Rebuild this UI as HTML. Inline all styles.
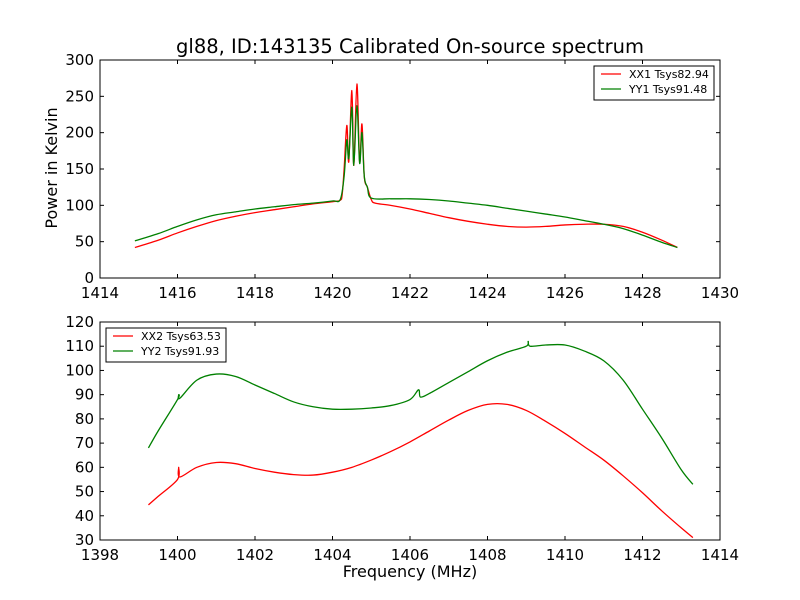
<!DOCTYPE html>
<html><head><meta charset="utf-8"><style>
body{margin:0;background:#fff;}
svg{display:block;font-family:"DejaVu Sans","Liberation Sans",sans-serif;}
</style></head><body>
<svg id="chart" width="800" height="600" viewBox="0 0 800 600">
<rect width="800" height="600" fill="#fff"/>
<text x="410" y="53" font-size="19.5" text-anchor="middle">gl88, ID:143135 Calibrated On-source spectrum</text>
<text x="57" y="168" font-size="16" text-anchor="middle" transform="rotate(-90 57 168)">Power in Kelvin</text>
<text x="410" y="577" font-size="16" text-anchor="middle">Frequency (MHz)</text>
<g id="top"></g><g id="bot"></g>
</svg>
<script>
const topXTicks=[1414,1416,1418,1420,1422,1424,1426,1428,1430];
const topYTicks=[0,50,100,150,200,250,300];
const xx1Freq=[1414.9,1415.5,1416,1416.5,1417,1417.5,1418,1418.5,1419,1419.5,1420,1420.2,1420.25,1420.3,1420.37,1420.42,1420.5,1420.55,1420.63,1420.7,1420.76,1420.82,1420.9,1421,1421.1,1421.5,1422,1422.5,1423,1423.5,1424,1424.5,1425,1425.5,1426,1426.5,1427,1427.5,1428,1428.5,1428.9];
const xx1Vals=[42,52,62,71,79,85,90,94,98,102,105,107,115,150,210,160,258,155,267,160,212,140,125,108,103,100,95,89,83,78,74,71,70,71,73,74,74,71,63,52,42];
const yy1Freq=[1414.9,1415.5,1416,1416.5,1417,1417.5,1418,1418.5,1419,1419.5,1420,1420.2,1420.3,1420.37,1420.42,1420.5,1420.55,1420.63,1420.7,1420.76,1420.82,1420.9,1421,1421.5,1422,1422.5,1423,1423.5,1424,1424.5,1425,1425.5,1426,1426.5,1427,1427.5,1428,1428.5,1428.9];
const yy1Vals=[51,61,71,80,87,91,95,98,101,103,106,108,140,190,165,235,155,237,158,200,140,125,110,109,109,108,106,103,100,96,92,88,84,79,74,68,59,49,42];
const botXTicks=[1398,1400,1402,1404,1406,1408,1410,1412,1414];
const botYTicks=[30,40,50,60,70,80,90,100,110,120];
const xx2Freq=[1399.25,1399.5,1400,1400.03,1400.06,1400.5,1401,1401.5,1402,1402.5,1403,1403.5,1404,1404.5,1405,1405.5,1406,1406.5,1407,1407.5,1408,1408.5,1409,1409.5,1410,1410.5,1411,1411.5,1412,1412.5,1413,1413.3];
const xx2Vals=[44.5,48,55,60,56,60,62,61.5,59.5,58,57,56.8,58,60,63,66.5,70.5,75,79.5,83.5,86,86,83.5,79,74,68.5,63,56.5,49.5,42,35,31];
const yy2Freq=[1399.25,1399.5,1400,1400.03,1400.06,1400.5,1401,1401.5,1402,1402.5,1403,1403.5,1404,1404.5,1405,1405.5,1406,1406.22,1406.27,1406.5,1407,1407.5,1408,1408.5,1409,1409.05,1409.1,1409.5,1410,1410.5,1411,1411.5,1412,1412.5,1413,1413.3];
const yy2Vals=[68,75,88,90,88.5,96,98.5,97.5,94,90.5,87,85,84,84,84.5,85.5,88,92,89,90.5,95,99.5,104,107.5,110,112,110,110.5,110.5,108,104,96,84,72,59,53];
const NS="http://www.w3.org/2000/svg";
function mk(tag,attrs,parent){const e=document.createElementNS(NS,tag);for(const k in attrs)e.setAttribute(k,attrs[k]);parent.appendChild(e);return e;}
function smooth(pts){
  let d='M'+pts[0][0].toFixed(2)+','+pts[0][1].toFixed(2);
  for(let i=0;i<pts.length-1;i++){
    const p0=pts[Math.max(0,i-1)],p1=pts[i],p2=pts[i+1],p3=pts[Math.min(pts.length-1,i+2)];
    const t=1/6;
    const c1=[p1[0]+(p2[0]-p0[0])*t,p1[1]+(p2[1]-p0[1])*t];
    const c2=[p2[0]-(p3[0]-p1[0])*t,p2[1]-(p3[1]-p1[1])*t];
    d+='C'+c1.map(v=>v.toFixed(2)).join(',')+' '+c2.map(v=>v.toFixed(2)).join(',')+' '+p2[0].toFixed(2)+','+p2[1].toFixed(2);
  }
  return d;
}
function panel(g,x0,x1,y0,y1,xmin,xmax,ymin,ymax,xt,yt,series,legend){
  const sx=v=>x0+(v-xmin)/(xmax-xmin)*(x1-x0);
  const sy=v=>y1-(v-ymin)/(ymax-ymin)*(y1-y0);
  series.forEach(s=>{
    const pts=s.f.map((f,i)=>[sx(f),sy(s.v[i])]);
    const p=mk('path',{d:smooth(pts),fill:'none',stroke:s.c,'stroke-width':1.3,'stroke-linejoin':'round'},g);
    
    
  });
  const fr=mk('rect',{x:x0,y:y0,width:x1-x0,height:y1-y0,fill:'none',stroke:'#000','stroke-width':1},g);
  
  
  xt.forEach(t=>{const x=sx(t);
    mk('line',{x1:x,x2:x,y1:y1,y2:y1-4,stroke:'#000'},g);mk('line',{x1:x,x2:x,y1:y0,y2:y0+4,stroke:'#000'},g);
    const tx=mk('text',{x:x,y:y1+20,'font-size':15,'text-anchor':'middle'},g);tx.textContent=t;
    
    
  });
  yt.forEach(t=>{const y=sy(t);
    mk('line',{x1:x0,x2:x0+4,y1:y,y2:y,stroke:'#000'},g);mk('line',{x1:x1,x2:x1-4,y1:y,y2:y,stroke:'#000'},g);
    const tx=mk('text',{x:x0-6,y:y+5,'font-size':15,'text-anchor':'end'},g);tx.textContent=t;
    
    
  });
  const lg=mk('g',{},g);
  
  
  mk('rect',{x:legend.x,y:legend.y,width:120,height:34,fill:'#fff',stroke:'#000'},lg);
  series.forEach((s,i)=>{const y=legend.y+8+i*15;
    mk('line',{x1:legend.x+7,x2:legend.x+27,y1:y,y2:y,stroke:s.c,'stroke-width':1.3},lg);
    const tx=mk('text',{x:legend.x+35,y:y+4,'font-size':11},lg);tx.textContent=s.label;
    
    
  });
}
panel(document.getElementById('top'),100,720,60,278,1414,1430,0,300,topXTicks,topYTicks,
 [{f:xx1Freq,v:xx1Vals,c:'#ff0000',name:'xx1',label:'XX1 Tsys82.94'},{f:yy1Freq,v:yy1Vals,c:'#008000',name:'yy1',label:'YY1 Tsys91.48'}],{x:594,y:66});
panel(document.getElementById('bot'),100,720,322,540,1398,1414,30,120,botXTicks,botYTicks,
 [{f:xx2Freq,v:xx2Vals,c:'#ff0000',name:'xx2',label:'XX2 Tsys63.53'},{f:yy2Freq,v:yy2Vals,c:'#008000',name:'yy2',label:'YY2 Tsys91.93'}],{x:106,y:328});
</script>
</body></html>
